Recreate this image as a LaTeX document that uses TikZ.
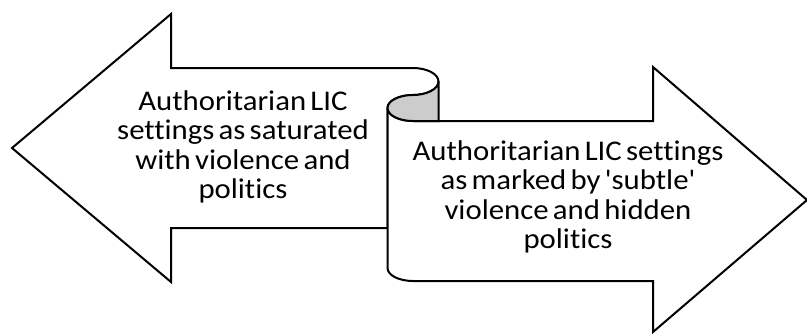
\documentclass[tikz,border=0pt]{standalone}
\usepackage{fontspec}
\setmainfont[Ligatures={CommonOff,TeXOff}]{Carlito}
\newcommand\mylblfont{\fontsize{28.5}{29.5}\selectfont\spaceskip=0.14em plus 0.05em minus 0.02em\relax}
\begin{document}
\begin{tikzpicture}[x=1pt,y=-1pt,
  shapeline/.style={draw=black,line width=2pt,line join=miter},
  label/.style={align=center,inner sep=0pt,xscale=1.08,transform shape,font=\mylblfont}]
\useasboundingbox (0,0) rectangle (807,333);
% left arrow
\draw[shapeline,fill=white] (171,14) -- (171,68) -- (413,68)
  arc[start angle=-90,end angle=90,x radius=25.5,y radius=13.5]
  arc[start angle=-90,end angle=-180,x radius=25.5,y radius=13]
  -- (387.5,228) -- (171,228) -- (171,282) -- (12,148) -- cycle;
% right arrow
\draw[shapeline,fill=white] (387.5,108) -- (387.5,268)
  arc[start angle=180,end angle=90,x radius=25.5,y radius=13]
  -- (653,281) -- (653,332) -- (807,200) -- (653,67) -- (653,121) -- (413,121)
  arc[start angle=90,end angle=180,x radius=25.5,y radius=13] -- cycle;
% curl
\draw[shapeline,fill=black!20] (438.5,81.5) -- (438.5,121) -- (413,121)
  arc[start angle=90,end angle=270,x radius=25.5,y radius=13]
  arc[start angle=90,end angle=0,x radius=25.5,y radius=13.5] -- cycle;
\node[label] (lt) at (243,147) {Authoritarian LIC\\settings as saturated\\with violence and\\politics};
\node[label] (rt) at (568,197) {Authoritarian LIC settings\\as marked by 'subtle'\\violence and hidden\\politics};
\end{tikzpicture}
\end{document}
